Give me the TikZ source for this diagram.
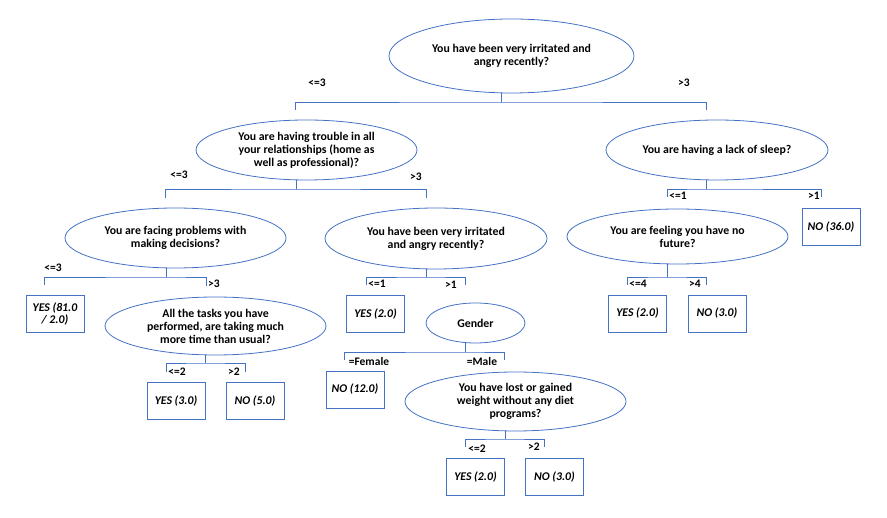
\documentclass[tikz,border=0pt]{standalone}
\usepackage{fontspec}
\setmainfont{Carlito}
\usetikzlibrary{shapes,positioning,calc}
\definecolor{qblue}{RGB}{68,114,196}
\tikzset{
  quest/.style={ellipse,draw=qblue,line width=0.8pt,inner sep=0pt,align=center,
    font=\bfseries\fontsize{11.8}{13}\selectfont},
  leaf/.style={rectangle,draw=qblue,line width=0.8pt,minimum width=58pt,
    minimum height=37pt,inner sep=0pt,align=center,
    font=\bfseries\itshape\fontsize{11.8}{12}\selectfont},
  cond/.style={inner sep=0pt,font=\bfseries\fontsize{11.5}{12}\selectfont},
  branch/.style={draw=qblue,line width=0.7pt},
}
\begin{document}
\begin{tikzpicture}[x=1pt,y=-1pt]
  \useasboundingbox (0,0) rectangle (887,518);
  % questions
  \node[quest,minimum width=245pt,minimum height=74pt] (root) at (511.5,56)
    {You have been very irritated and\\angry recently?};
  \node[quest,minimum width=221pt,minimum height=60pt] (trouble) at (306.5,150)
    {You are having trouble in all\\your relationships (home as\\well as professional)?};
  \node[quest,minimum width=222pt,minimum height=60pt] (sleep) at (717,150)
    {You are having a lack of sleep?};
  \node[quest,minimum width=221pt,minimum height=60pt] (decide) at (175.5,238)
    {You are facing problems with\\making decisions?};
  \node[quest,minimum width=222pt,minimum height=61pt] (angry) at (436,238.5)
    {You have been very irritated\\and angry recently?};
  \node[quest,minimum width=221pt,minimum height=55pt] (future) at (677.5,236.5)
    {You are feeling you have no\\future?};
  \node[quest,minimum width=221pt,minimum height=58pt] (tasks) at (215.5,326)
    {All the tasks you have\\performed, are taking much\\more time than usual?};
  \node[quest,minimum width=99pt,minimum height=40pt] (gender) at (475.5,323)
    {Gender};
  \node[quest,minimum width=221pt,minimum height=59pt] (weight) at (515.5,401.5)
    {You have lost or gained\\weight without any diet\\programs?};
  % leaves
  \node[leaf] (yes81) at (55,314) {YES (81.0\\/ 2.0)};
  \node[leaf] (no36) at (831,227) {NO (36.0)};
  \node[leaf] (yes-future) at (637.5,313.5) {YES (2.0)};
  \node[leaf] (no-future) at (717,313.5) {NO (3.0)};
  \node[leaf] (yes-tasks) at (176,401) {YES (3.0)};
  \node[leaf] (no-tasks) at (255,401) {NO (5.0)};
  \node[leaf] (yes-angry) at (375.5,314) {YES (2.0)};
  \node[leaf] (no12) at (355,389.5) {NO (12.0)};
  \node[leaf] (yes-weight) at (475.5,477) {YES (2.0)};
  \node[leaf] (no-weight) at (554.5,477) {NO (3.0)};
  % branches
  \coordinate (root-j) at (501,102);
  \coordinate (root-l) at (295,110);
  \coordinate (root-r) at (706,110);
  \coordinate (trouble-j) at (296,189);
  \coordinate (trouble-l) at (165,198);
  \coordinate (trouble-r) at (426,198);
  \coordinate (sleep-j) at (706,189);
  \coordinate (sleep-l) at (667,197);
  \coordinate (sleep-r) at (821,197);
  \coordinate (decide-j) at (166,277);
  \coordinate (decide-l) at (44,285);
  \coordinate (decide-r) at (206,286);
  \coordinate (angry-j) at (426,277);
  \coordinate (angry-l) at (366,285);
  \coordinate (angry-r) at (465,285);
  \coordinate (future-j) at (667,277);
  \coordinate (future-l) at (627,285);
  \coordinate (future-r) at (706,285);
  \coordinate (tasks-j) at (205,363);
  \coordinate (tasks-l) at (166,372);
  \coordinate (tasks-r) at (245,372);
  \coordinate (gender-j) at (465,352);
  \coordinate (gender-l) at (344,360);
  \coordinate (gender-r) at (504,360);
  \coordinate (weight-j) at (505,439);
  \coordinate (weight-l) at (465,447);
  \coordinate (weight-r) at (544,447);
  \foreach \q in {root,trouble,sleep,decide,angry,future,tasks,gender,weight}{
    \draw[branch] (\q-j) -- (\q-j |- \q.south);
    \draw[branch] (\q-l) |- (\q-j) -| (\q-r);
  }
  % conditions
  \node[cond] (root-lc) at (317,83) {<=3};
  \node[cond] (root-rc) at (684,83) {>3};
  \node[cond] (trouble-lc) at (179,175) {<=3};
  \node[cond] (trouble-rc) at (416,177) {>3};
  \node[cond] (sleep-lc) at (678,196) {<=1};
  \node[cond] (sleep-rc) at (814,196) {>1};
  \node[cond] (decide-lc) at (53,268) {<=3};
  \node[cond] (decide-rc) at (214,284) {>3};
  \node[cond] (angry-lc) at (377,284) {<=1};
  \node[cond] (angry-rc) at (451,285) {>1};
  \node[cond] (future-lc) at (638,284) {<=4};
  \node[cond] (future-rc) at (695,284) {>4};
  \node[cond] (tasks-lc) at (177,372) {<=2};
  \node[cond] (tasks-rc) at (234,372) {>2};
  \node[cond] (gender-lc) at (369,362) {=Female};
  \node[cond] (gender-rc) at (482,362) {=Male};
  \node[cond] (weight-lc) at (477,449) {<=2};
  \node[cond] (weight-rc) at (534,447) {>2};
\end{tikzpicture}
\end{document}
